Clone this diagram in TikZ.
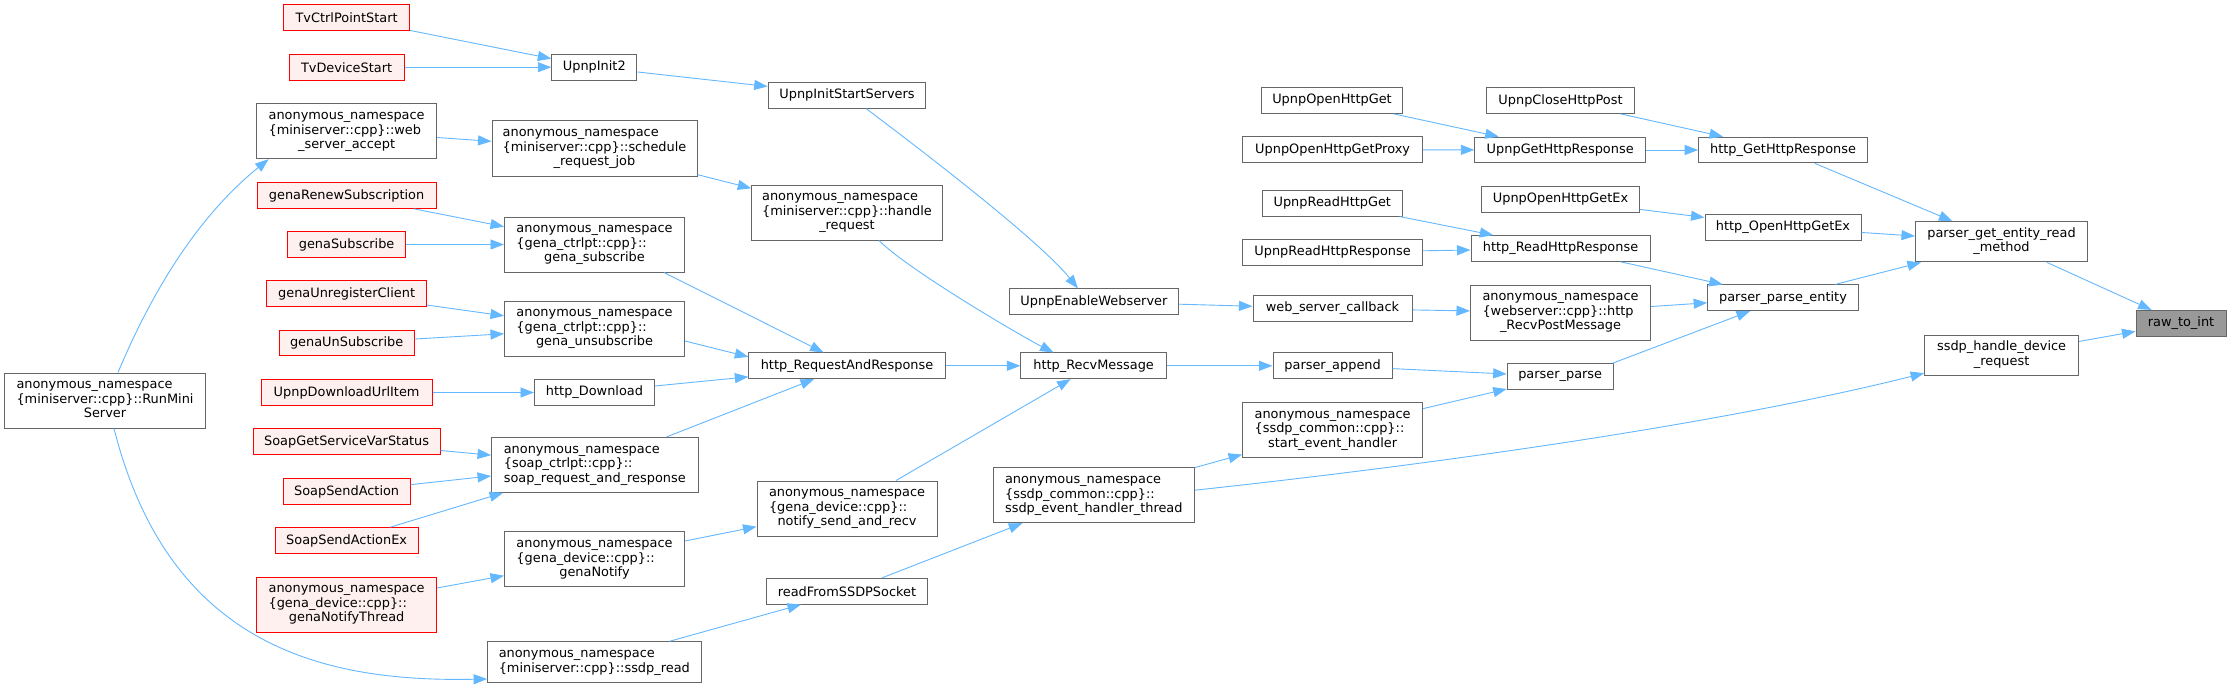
\documentclass[tikz,border=0pt]{standalone}
\usepackage{fontspec}
\setmainfont{DejaVu Sans}
\usetikzlibrary{arrows.meta}
\definecolor{edgeblue}{HTML}{63B8FF}
\definecolor{boxgray}{HTML}{666666}
\definecolor{redfill}{HTML}{FFF0F0}
\definecolor{rawfill}{HTML}{999999}
\newcommand\threel[3]{\begin{tabular}{@{}l@{}}#1\\#2\\\multicolumn{1}{@{}c@{}}{#3}\end{tabular}}
\newcommand\twol[2]{\begin{tabular}{@{}l@{}}#1\\\multicolumn{1}{@{}c@{}}{#2}\end{tabular}}
\begin{document}
\begin{tikzpicture}[x=1pt,y=-1pt,
 fn/.style={draw=boxgray, fill=white, line width=1pt, inner sep=0pt, minimum height=25.7pt, font=\fontsize{12.9}{14.5}\selectfont},
 rn/.style={fn, draw=red, fill=redfill},
 hn/.style={fn, fill=rawfill},
 tall/.style={minimum height=55pt},
 mid/.style={minimum height=40.3pt},
 edge/.style={draw=edgeblue, line width=0.9pt, -{Triangle[length=13.5pt,width=10pt]}}]
\fill[white] (0,0) rectangle (2232,690);
\useasboundingbox (0,0) rectangle (2232,690);
% column 1
\node[fn, tall, minimum width=200.7pt] (rms) at (105,400.5) {\threel{anonymous\_namespace}{\{miniserver::cpp\}::RunMini}{Server}};
% column 2
\node[rn, minimum width=126pt] (tvcp) at (346.6,17.8) {TvCtrlPointStart};
\node[rn, minimum width=115pt] (tvds) at (346.6,67.2) {TvDeviceStart};
\node[fn, tall, minimum width=180pt] (wsa) at (346.6,131.2) {\threel{anonymous\_namespace}{\{miniserver::cpp\}::web}{\_server\_accept}};
\node[rn, minimum width=179pt] (grs) at (346.6,195.5) {genaRenewSubscription};
\node[rn, minimum width=117.5pt] (gsub) at (346.6,244.5) {genaSubscribe};
\node[rn, minimum width=160pt] (gurc) at (346.6,293.8) {genaUnregisterClient};
\node[rn, minimum width=135pt] (gunsub) at (346.6,343) {genaUnSubscribe};
\node[rn, minimum width=171pt] (udui) at (346.6,392.5) {UpnpDownloadUrlItem};
\node[rn, minimum width=187pt] (sgsvs) at (346.6,441.8) {SoapGetServiceVarStatus};
\node[rn, minimum width=127pt] (ssa) at (346.6,491.5) {SoapSendAction};
\node[rn, minimum width=143pt] (ssaex) at (346.6,540.5) {SoapSendActionEx};
\node[rn, tall, minimum width=180pt] (gnt) at (346.6,604.5) {\threel{anonymous\_namespace}{\{gena\_device::cpp\}::}{genaNotifyThread}};
% column 3
\node[fn, minimum width=85pt] (ui2) at (594.3,67.2) {UpnpInit2};
\node[fn, tall, minimum width=205pt] (srj) at (594.5,148.5) {\threel{anonymous\_namespace}{\{miniserver::cpp\}::schedule}{\_request\_job}};
\node[fn, tall, minimum width=180pt] (gsubn) at (594.5,244.5) {\threel{anonymous\_namespace}{\{gena\_ctrlpt::cpp\}::}{gena\_subscribe}};
\node[fn, tall, minimum width=180pt] (gunsubn) at (594.5,328.5) {\threel{anonymous\_namespace}{\{gena\_ctrlpt::cpp\}::}{gena\_unsubscribe}};
\node[fn, minimum width=120pt] (hdl) at (594.5,392.5) {http\_Download};
\node[fn, tall, minimum width=206.5pt] (srar) at (594.8,464.8) {\threel{anonymous\_namespace}{\{soap\_ctrlpt::cpp\}::}{soap\_request\_and\_response}};
\node[fn, tall, minimum width=180pt] (gn) at (594.5,559.2) {\threel{anonymous\_namespace}{\{gena\_device::cpp\}::}{genaNotify}};
\node[fn, mid, minimum width=213.4pt] (sread) at (594.3,662) {\twol{anonymous\_namespace}{\{miniserver::cpp\}::ssdp\_read}};
% column 4
\node[fn, minimum width=157.6pt] (uiss) at (847,95.2) {UpnpInitStartServers};
\node[fn, tall, minimum width=190.5pt] (hreq) at (847,212.5) {\threel{anonymous\_namespace}{\{miniserver::cpp\}::handle}{\_request}};
\node[fn, minimum width=196.3pt] (hrar) at (847,365.8) {http\_RequestAndResponse};
\node[fn, tall, minimum width=180pt] (nsar) at (847,508.5) {\threel{anonymous\_namespace}{\{gena\_device::cpp\}::}{notify\_send\_and\_recv}};
\node[fn, minimum width=161.4pt] (rfss) at (847,591.2) {readFromSSDPSocket};
% column 5
\node[fn, minimum width=169pt] (uew) at (1093.9,301.8) {UpnpEnableWebserver};
\node[fn, minimum width=145.4pt] (hrm) at (1093.6,365.8) {http\_RecvMessage};
\node[fn, tall, minimum width=201pt] (seht) at (1093.8,495.2) {\threel{anonymous\_namespace}{\{ssdp\_common::cpp\}::}{ssdp\_event\_handler\_thread}};
% column 6
\node[fn, minimum width=141.5pt] (uohg) at (1332,100.5) {UpnpOpenHttpGet};
\node[fn, minimum width=179.4pt] (uohgp) at (1332.6,149.7) {UpnpOpenHttpGetProxy};
\node[fn, minimum width=140pt] (urhg) at (1332.3,203.2) {UpnpReadHttpGet};
\node[fn, minimum width=180pt] (urhr) at (1332.6,252.3) {UpnpReadHttpResponse};
\node[fn, minimum width=159pt] (wsc) at (1332.5,308.5) {web\_server\_callback};
\node[fn, minimum width=119.2pt] (pa) at (1332.6,365.8) {parser\_append};
\node[fn, tall, minimum width=180pt] (seh) at (1332.6,429.8) {\threel{anonymous\_namespace}{\{ssdp\_common::cpp\}::}{start\_event\_handler}};
% column 7
\node[fn, minimum width=148pt] (uchp) at (1560.5,100.5) {UpnpCloseHttpPost};
\node[fn, minimum width=170.8pt] (ughr) at (1560.2,150) {UpnpGetHttpResponse};
\node[fn, minimum width=157.6pt] (uohgex) at (1560.5,199.5) {UpnpOpenHttpGetEx};
\node[fn, minimum width=179pt] (hrhr) at (1560.5,248.5) {http\_ReadHttpResponse};
\node[fn, tall, minimum width=180pt] (hrpm) at (1560.5,312.5) {\threel{anonymous\_namespace}{\{webserver::cpp\}::http}{\_RecvPostMessage}};
\node[fn, minimum width=106pt] (pp) at (1560.2,376.5) {parser\_parse};
% column 8
\node[fn, minimum width=168.7pt] (hghr) at (1783,150) {http\_GetHttpResponse};
\node[fn, minimum width=156pt] (hohgex) at (1783,227.2) {http\_OpenHttpGetEx};
\node[fn, minimum width=150.7pt] (ppe) at (1783,297.8) {parser\_parse\_entity};
% column 9
\node[fn, mid, minimum width=172pt] (pgerm) at (2001.5,241.8) {\twol{parser\_get\_entity\_read}{\_method}};
\node[fn, mid, minimum width=154pt] (sdr) at (2001.6,355.2) {\twol{ssdp\_handle\_device}{\_request}};
% column 10
\node[hn, minimum width=90pt] (rti) at (2181,323.3) {raw\_to\_int};
% edges
\draw[edge] (tvcp) -- (ui2);
\draw[edge] (tvds) -- (ui2);
\draw[edge] (ui2) -- (uiss);
\draw[edge] ([xshift=19pt]uiss.south) .. controls +(40,30) and +(-40,-50) .. ([xshift=-16pt]uew.north);
\draw[edge] (wsa) -- (srj);
\draw[edge] (srj) -- (hreq);
\draw[edge] ([xshift=32pt]hreq.south) .. controls +(30,30) and +(-30,-15) .. ([xshift=-40pt]hrm.north);
\draw[edge] ([xshift=13pt]rms.north) .. controls +(42,-100) and +(-60,48.5) .. ([xshift=12.5pt]wsa.south west);
\draw[edge] ([xshift=9pt]rms.south) .. controls +(56,222) and +(-157.6,3) .. ([yshift=-17pt]sread.west);
\draw[edge] (grs) -- (gsubn);
\draw[edge] (gsub) -- (gsubn);
\draw[edge] ([xshift=69.5pt]gsubn.south) -- ([xshift=-23.5pt]hrar.north);
\draw[edge] (gurc) -- (gunsubn);
\draw[edge] (gunsub) -- (gunsubn);
\draw[edge] ([yshift=-12.5pt]gunsubn.east) -- ([yshift=9pt]hrar.west);
\draw[edge] (udui) -- (hdl);
\draw[edge] ([yshift=6.5pt]hdl.east) -- ([yshift=-11pt]hrar.west);
\draw[edge] (sgsvs) -- (srar);
\draw[edge] (ssa) -- (srar);
\draw[edge] (ssaex) -- (srar);
\draw[edge] ([xshift=72pt]srar.north) -- ([xshift=-33pt]hrar.south);
\draw[edge] (gnt) -- (gn);
\draw[edge] (gn) -- (nsar);
\draw[edge] ([xshift=49pt]nsar.north) -- ([xshift=-23pt]hrm.south);
\draw[edge] ([xshift=75pt]sread.north) -- ([xshift=-46pt]rfss.south);
\draw[edge] ([xshift=35pt]rfss.north) -- ([xshift=-71.5pt]seht.south);
\draw[edge] (seht) -- (seh);
\draw[edge] ([yshift=5pt]seht.east) .. controls +(250,-27) and +(-200,50) .. ([yshift=-18pt]sdr.west);
\draw[edge] (hrar) -- (hrm);
\draw[edge] (hrm) -- (pa);
\draw[edge] (uew) -- (wsc);
\draw[edge] (wsc) -- (hrpm);
\draw[edge] (hrpm) -- (ppe);
\draw[edge] (pa) -- (pp);
\draw[edge] (seh) -- (pp);
\draw[edge] ([xshift=-1pt]pp.north east) -- ([xshift=-33pt]ppe.south);
\draw[edge] (uohg) -- (ughr);
\draw[edge] (uohgp) -- (ughr);
\draw[edge] (ughr) -- (hghr);
\draw[edge] (uchp) -- (hghr);
\draw[edge] (urhg) -- (hrhr);
\draw[edge] (urhr) -- (hrhr);
\draw[edge] (hrhr) -- (ppe);
\draw[edge] (uohgex) -- (hohgex);
\draw[edge] (hghr) -- (pgerm);
\draw[edge] (hohgex) -- (pgerm);
\draw[edge] (ppe) -- (pgerm);
\draw[edge] (pgerm) -- (rti);
\draw[edge] (sdr) -- (rti);
\end{tikzpicture}
\end{document}
